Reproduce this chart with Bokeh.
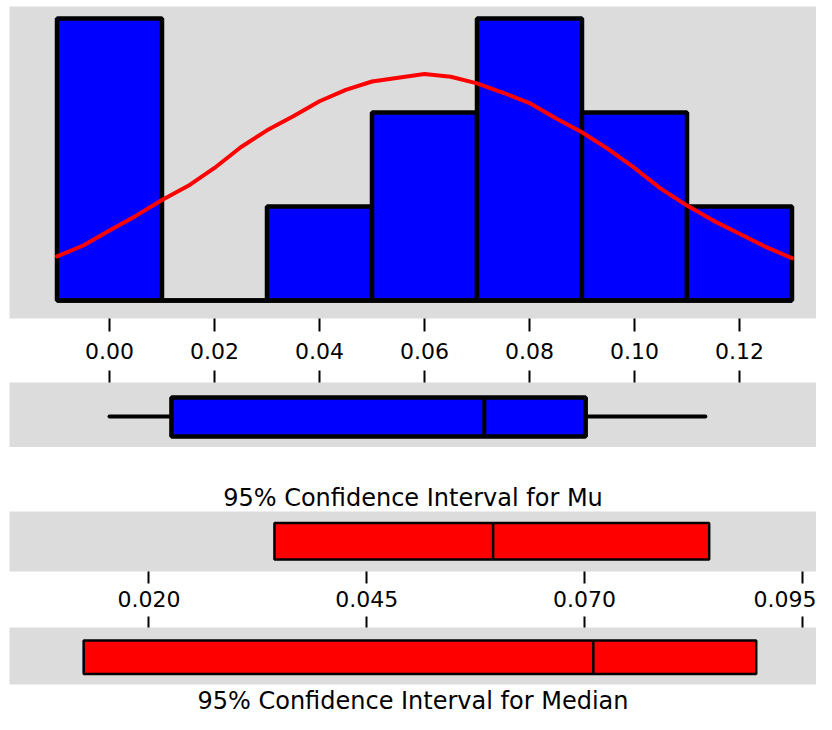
from bokeh.plotting import figure
from bokeh.models import Range1d, FixedTicker, NumeralTickFormatter
from bokeh.layouts import column
from bokeh.embed import file_html
from bokeh.resources import INLINE

# ---------------- data ----------------
bin_edges = [-0.01, 0.01, 0.03, 0.05, 0.07, 0.09, 0.11, 0.13]
bin_counts = [3, 0, 1, 2, 3, 2, 1]

curve_x = [-0.010, -0.005, 0.000, 0.005, 0.010, 0.015, 0.020, 0.025, 0.030,
           0.035, 0.040, 0.045, 0.050, 0.055, 0.060, 0.065, 0.070, 0.075,
           0.080, 0.085, 0.090, 0.095, 0.100, 0.105, 0.110, 0.115, 0.120,
           0.125, 0.130]
curve_y = [0.47, 0.585, 0.745, 0.90, 1.07, 1.22, 1.41, 1.63, 1.81,
           1.96, 2.12, 2.24, 2.33, 2.37, 2.41, 2.38, 2.31, 2.21,
           2.10, 1.94, 1.79, 1.61, 1.41, 1.19, 1.01, 0.85, 0.71,
           0.57, 0.45]

box_whisker_lo = 0.0
box_q1 = 0.0118
box_median = 0.0714
box_q3 = 0.0907
box_whisker_hi = 0.1135

mu_ci = [0.0344, 0.0595, 0.0843]       # lower, mean, upper
median_ci = [0.0125, 0.0710, 0.0897]   # lower, median, upper

hist_ticks = [0.00, 0.02, 0.04, 0.06, 0.08, 0.10, 0.12]
ci_ticks = [0.020, 0.045, 0.070, 0.095]

mu_title = "95% Confidence Interval for Mu"
median_title = "95% Confidence Interval for Median"

# ---------------- styling ----------------
GRAY = "#DCDCDC"
FONT = "DejaVu Sans"
W = 816


def base(height, x_range, **kw):
    p = figure(width=W, height=height, x_range=x_range, output_backend="svg",
               toolbar_location=None, y_axis_location=None,
               min_border_left=9, min_border_right=0,
               background_fill_color=GRAY, border_fill_color="white",
               outline_line_color=None, **kw)
    p.grid.visible = False
    return p


def style_axis(ax, ticks, fmt, tick_out, standoff=8, labels=True):
    ax.ticker = FixedTicker(ticks=ticks)
    ax.formatter = NumeralTickFormatter(format=fmt)
    ax.axis_line_color = None
    ax.major_tick_out = tick_out
    ax.major_tick_in = 0
    ax.major_tick_line_width = 2
    ax.major_tick_line_color = "black"
    ax.minor_tick_line_color = None
    if labels:
        ax.major_label_text_font = FONT
        ax.major_label_text_font_size = "22px"
        ax.major_label_text_color = "black"
        ax.major_label_standoff = standoff
    else:
        ax.major_label_text_font_size = "0px"
        ax.major_label_text_alpha = 0
        ax.major_label_standoff = 0


# ---------------- histogram ----------------
hist_range = Range1d(-0.019048, 0.134667)
p1 = base(370, hist_range, y_range=Range1d(-0.1915, 3.1277),
          min_border_top=6, min_border_bottom=52)
p1.quad(left=bin_edges[:-1], right=bin_edges[1:], bottom=0, top=bin_counts,
        fill_color="#0000FF", line_color="black", line_width=4.5)
p1.segment(x0=[bin_edges[0]], x1=[bin_edges[-1]], y0=[0], y1=[0],
           line_color="black", line_width=4.5)
p1.line(curve_x, curve_y, line_color="#FF0000", line_width=4,
        line_cap="round", line_join="round")
style_axis(p1.xaxis[0], hist_ticks, "0.00", 13, standoff=11)

# ---------------- boxplot ----------------
p2 = base(77, hist_range, y_range=Range1d(0, 1), x_axis_location="above",
          min_border_top=12, min_border_bottom=0)
p2.segment(x0=[box_whisker_lo], x1=[box_whisker_hi], y0=[0.477], y1=[0.477],
           line_color="black", line_width=4, line_cap="round")
p2.quad(left=[box_q1], right=[box_q3], bottom=[0.17], top=[0.77],
        fill_color="#0000FF", line_color="black", line_width=4.5)
p2.segment(x0=[box_median], x1=[box_median], y0=[0.17], y1=[0.77],
           line_color="black", line_width=4)
style_axis(p2.xaxis[0], hist_ticks, "0.00", 12, labels=False)

# ---------------- CI for Mu ----------------
ci_range = Range1d(0.003988, 0.096619)
p3 = base(169, ci_range, y_range=Range1d(0, 1), title=mu_title,
          min_border_top=64, min_border_bottom=45)
p3.quad(left=[mu_ci[0]], right=[mu_ci[2]], bottom=[0.2], top=[0.81],
        fill_color="#FF0000", line_color="black", line_width=2.5)
p3.segment(x0=[mu_ci[1]], x1=[mu_ci[1]], y0=[0.2], y1=[0.81],
           line_color="black", line_width=2.5)
style_axis(p3.xaxis[0], ci_ticks, "0.000", 12, standoff=7)

# ---------------- CI for Median ----------------
p4 = base(98, ci_range, y_range=Range1d(0, 1), x_axis_location="above",
          title=median_title, title_location="below",
          min_border_top=11, min_border_bottom=20)
p4.quad(left=[median_ci[0]], right=[median_ci[2]], bottom=[0.185], top=[0.77],
        fill_color="#FF0000", line_color="black", line_width=2.5)
p4.segment(x0=[median_ci[1]], x1=[median_ci[1]], y0=[0.185], y1=[0.77],
           line_color="black", line_width=2.5)
style_axis(p4.xaxis[0], ci_ticks, "0.000", 11, labels=False)

for p in (p3, p4):
    p.title.align = "center"
    p.title.offset = 10
    p.title.text_font = FONT
    p.title.text_font_size = "24px"
    p.title.text_font_style = "normal"
    p.title.text_color = "black"
    p.title.standoff = 0

layout = column(p1, p2, p3, p4, spacing=0)
open("out.html", "w").write(file_html(layout, INLINE))
